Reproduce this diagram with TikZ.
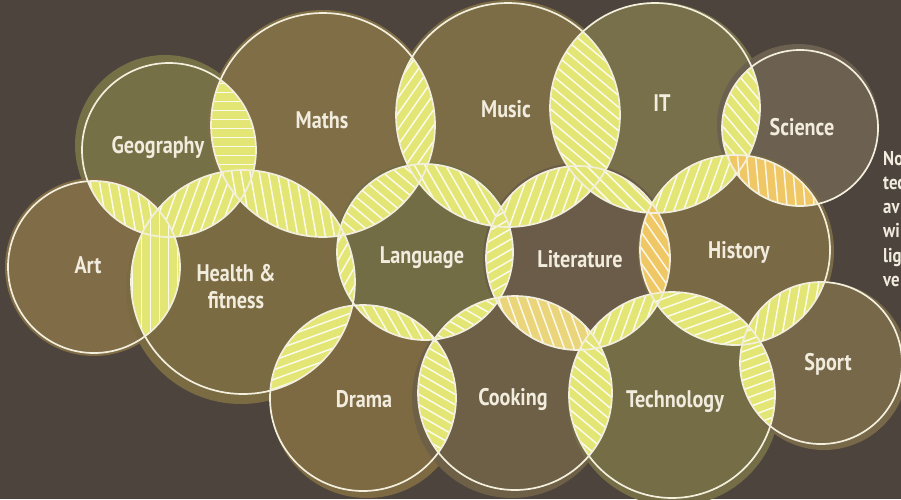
\documentclass[tikz,border=0pt]{standalone}
\usepackage{fontspec}
\newfontfamily\lblfont{PT Sans}[FakeStretch=0.84]
\usetikzlibrary{calc}
\definecolor{bgbrown}{HTML}{4D443D}
\definecolor{ringwhite}{HTML}{F3EFDD}
\definecolor{lblwhite}{HTML}{F1ECDD}
\definecolor{lensyel}{HTML}{E3E575}
\definecolor{lensorg}{HTML}{EFC765}
\definecolor{lenslt}{HTML}{EAD57A}
\definecolor{geofill}{HTML}{767046}
\definecolor{mathsfill}{HTML}{806E46}
\definecolor{musicfill}{HTML}{7D6D47}
\definecolor{itfill}{HTML}{77704A}
\definecolor{sciencefill}{HTML}{6C6050}
\definecolor{artfill}{HTML}{806C46}
\definecolor{healthfill}{HTML}{7A6B43}
\definecolor{langfill}{HTML}{726D45}
\definecolor{litfill}{HTML}{6A5C48}
\definecolor{historyfill}{HTML}{796944}
\definecolor{dramafill}{HTML}{7D6A43}
\definecolor{cookfill}{HTML}{6E6046}
\definecolor{techfill}{HTML}{746D46}
\definecolor{sportfill}{HTML}{776849}
\tikzset{
  ring/.style={draw=ringwhite, line width=1.7pt},
  hatch/.style={draw=white, line width=1.5pt, opacity=0.85, line cap=round},
  subject/.style={text=lblwhite, font=\lblfont\bfseries\fontsize{24}{27}\selectfont, align=center, inner sep=0pt},
  side/.style={text=lblwhite, font=\lblfont\bfseries\fontsize{20}{22}\selectfont, inner sep=0pt},
}
% lens between two circles: names, hatch angle, colour
\newcommand{\lens}[4]{%
  \begin{scope}
    \clip (#1) circle (\csname rad#1\endcsname pt);
    \clip (#2) circle (\csname rad#2\endcsname pt);
    \fill[#4] (#1) circle (\csname rad#1\endcsname pt);
    \begin{scope}[shift={($(#1)!0.5!(#2)$)}, rotate=#3]
      \foreach \k in {-11,...,11}
        \draw[hatch] (-105,\k*9) -- (105,\k*9);
    \end{scope}
  \end{scope}}
\begin{document}
\begin{tikzpicture}[x=1pt, y=-1pt]
  \useasboundingbox (0,0) rectangle (901,499);
  \fill[bgbrown] (0,0) rectangle (901,499);
  % circles: name/x/y/r/halo dx/halo dy/colour
  \foreach \n/\x/\y/\r/\dx/\dy/\col in {
      geo/169/150/87/-4/-5/geofill, maths/323/125/112/0/0/mathsfill,
      music/508/115/112/0/0/musicfill, it/655/108/105/2/2/itfill,
      science/800/128/78/-2/-3/sciencefill, art/94/267/86/0/0/artfill,
      health/243/282/112/-2/7/healthfill, language/425/252/88/0/0/langfill,
      literature/578/258/92/0/0/litfill, history/735/250/95/1/1/historyfill,
      drama/363/398/93/4/4/dramafill, cooking/515/393/97/-3/5/cookfill,
      technology/672/395/103/2/5/techfill, sport/821/363/81/3/3/sportfill}{
    \coordinate (\n) at (\x,\y);
    \expandafter\xdef\csname rad\n\endcsname{\r}
    \pgfmathsetmacro\rh{\r+3}
    \fill[\col] (\x+\dx,\y+\dy) circle (\rh pt);
    \fill[\col] (\x,\y) circle (\r pt);
  }
  % overlaps
  \foreach \a/\b/\ang/\col in {
      geo/maths/0/lensyel, geo/art/100/lensyel, geo/health/70/lensyel,
      maths/health/100/lensyel, maths/music/55/lensyel, maths/language/140/lensyel,
      music/language/120/lensyel, music/it/140/lensyel, music/literature/70/lensyel,
      it/literature/135/lensyel, it/science/130/lensyel, it/history/70/lensyel,
      science/history/95/lensorg, art/health/90/lensyel, health/language/60/lensyel,
      health/drama/20/lensyel, language/drama/120/lensyel, language/literature/30/lensyel,
      language/cooking/150/lensyel, literature/history/125/lensorg,
      literature/cooking/110/lenslt, literature/technology/70/lensyel,
      history/technology/20/lensyel, history/sport/80/lensyel,
      drama/cooking/150/lensyel, cooking/technology/140/lensyel,
      technology/sport/20/lensyel}
    \lens{\a}{\b}{\ang}{\col};
  % outlines
  \foreach \n in {geo,maths,music,it,science,art,health,language,
      literature,history,drama,cooking,technology,sport}
    \draw[ring] (\n) circle (\csname rad\n\endcsname pt);
  % labels
  \node[subject, anchor=base] (geo-t) at (158,153) {Geography};
  \node[subject, anchor=base] (maths-t) at (322,128) {Maths};
  \node[subject, anchor=base] (music-t) at (506,117) {Music};
  \node[subject, anchor=base] (it-t) at (662,111) {IT};
  \node[subject, anchor=base] (science-t) at (802,135) {Science};
  \node[subject, anchor=base] (art-t) at (88,273) {Art};
  \node[subject] (health-t) at (236,287) {Health \&\\fitness};
  \node[subject, anchor=base] (language-t) at (422,263) {Language};
  \node[subject, anchor=base] (literature-t) at (580,267) {Literature};
  \node[subject, anchor=base] (history-t) at (739,258) {History};
  \node[subject, anchor=base] (drama-t) at (364,407) {Drama};
  \node[subject, anchor=base] (cooking-t) at (513,405) {Cooking};
  \node[subject, anchor=base] (technology-t) at (675,407) {Technology};
  \node[subject, anchor=base] (sport-t) at (828,370) {Sport};
  % note at the right edge
  \foreach \w [count=\i] in {No,tec,av,wi,lig,ve}
    \node[side, anchor=base west] (note\i) at (883,{141+24.2*\i}) {\w};
\end{tikzpicture}
\end{document}
